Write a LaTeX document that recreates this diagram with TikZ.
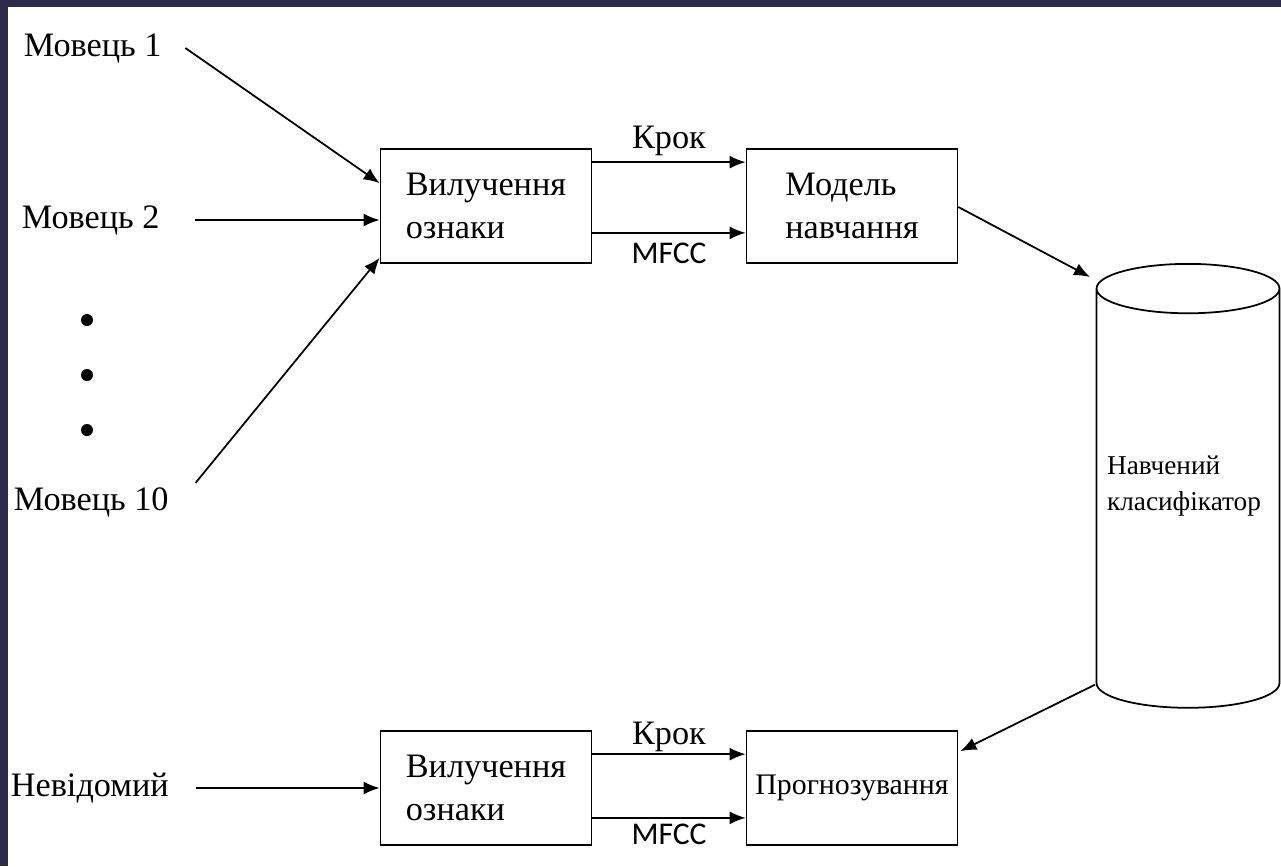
\documentclass[tikz,border=0pt]{standalone}
\usepackage{fontspec}
\setmainfont{Liberation Serif}
\newfontfamily\calibfont{Carlito}
\usetikzlibrary{arrows.meta,shapes.geometric,calc}
\definecolor{slidenavy}{RGB}{45,43,76}

\begin{document}
\begin{tikzpicture}[x=0.02cm, y=-0.02cm, line width=1pt,
  arr/.style={-{Latex[length=0.32cm,width=0.26cm]}},
  blockbox/.style={draw, rectangle, minimum width=4.22cm, minimum height=2.28cm, inner sep=0pt, align=left, font=\fontsize{19.5}{24}\selectfont},
  spk/.style={inner sep=0pt, anchor=west, font=\fontsize{19.5}{24}\selectfont},
  dot/.style={circle, fill, inner sep=0pt, minimum size=0.24cm},
  cyl/.style={draw, cylinder, shape border rotate=90, aspect=0.27, minimum width=3.66cm, minimum height=8.88cm, inner sep=0pt},
  cyltext/.style={inner sep=0pt, align=left, font=\fontsize{15.5}{20}\selectfont},
  steplbl/.style={midway, inner sep=3pt, font=\fontsize{19.5}{24}\selectfont},
  featlbl/.style={midway, inner sep=5pt, font=\calibfont\fontsize{18}{22}\selectfont}]
  \useasboundingbox (0,0) rectangle (1281,866);
  \fill[slidenavy] (0,0) rectangle (1281,866);
  \fill[white] (8,7) rectangle (1281,866);

  \node[spk] (spk1) at (23,48) {Мовець 1};
  \node[spk] (spk2) at (21,220) {Мовець 2};
  \node[spk] (spk10) at (13,502) {Мовець 10};
  \node[spk] (unk) at (10,788) {Невідомий};
  \foreach \y/\n in {320/1,375/2,430/3}
    \node[dot] (dot\n) at (87,\y) {};

  \node[blockbox] (feat1) at (486,206) {Вилучення\\ознаки};
  \node[blockbox] (model) at (852,206) {Модель\\навчання};
  \node[blockbox] (feat2) at (486,788) {Вилучення\\ознаки};
  \node[blockbox, font=\fontsize{17}{20}\selectfont] (pred) at (852,788) {Прогнозування};
  \node[cyl, anchor=north] (clf) at (1188,263) {\hspace*{3.66cm}};
  \node[cyltext] (clftext) at (1184,486) {Навчений\\класифікатор};

  \draw[arr] ($(spk1.east)+(23,0)$) -- ($(feat1.north west)+(0,35)$);
  \draw[arr] ($(spk2.east)+(35,0)$) -- ($(feat1.west)+(0,14)$);
  \draw[arr] ($(spk10.east)+(26,-19)$) -- ($(feat1.south west)+(0,-6)$);
  \draw[arr] ($(unk.east)+(26,0)$) -- (feat2.west);

  \draw[arr] ($(feat1.north east)+(0,14)$) -- node[steplbl, above] {Крок} ($(model.north west)+(0,14)$);
  \draw[arr] ($(feat1.south east)+(0,-31)$) -- node[featlbl, below] {MFCC} ($(model.south west)+(0,-31)$);
  \draw[arr] ($(feat2.north east)+(0,24)$) -- node[steplbl, above=-2pt] {Крок} ($(pred.north west)+(0,24)$);
  \draw[arr] ($(feat2.south east)+(0,-28)$) -- node[featlbl, below=-2pt] {MFCC} ($(pred.south west)+(0,-28)$);

  \draw[arr] ($(model.east)+(0,1)$) -- ($(clf.north)+(-98,14)$);
  \draw[arr] ($(clf.south)+(-93,-24)$) -- ($(pred.north east)+(2,21)$);
\end{tikzpicture}
\end{document}
